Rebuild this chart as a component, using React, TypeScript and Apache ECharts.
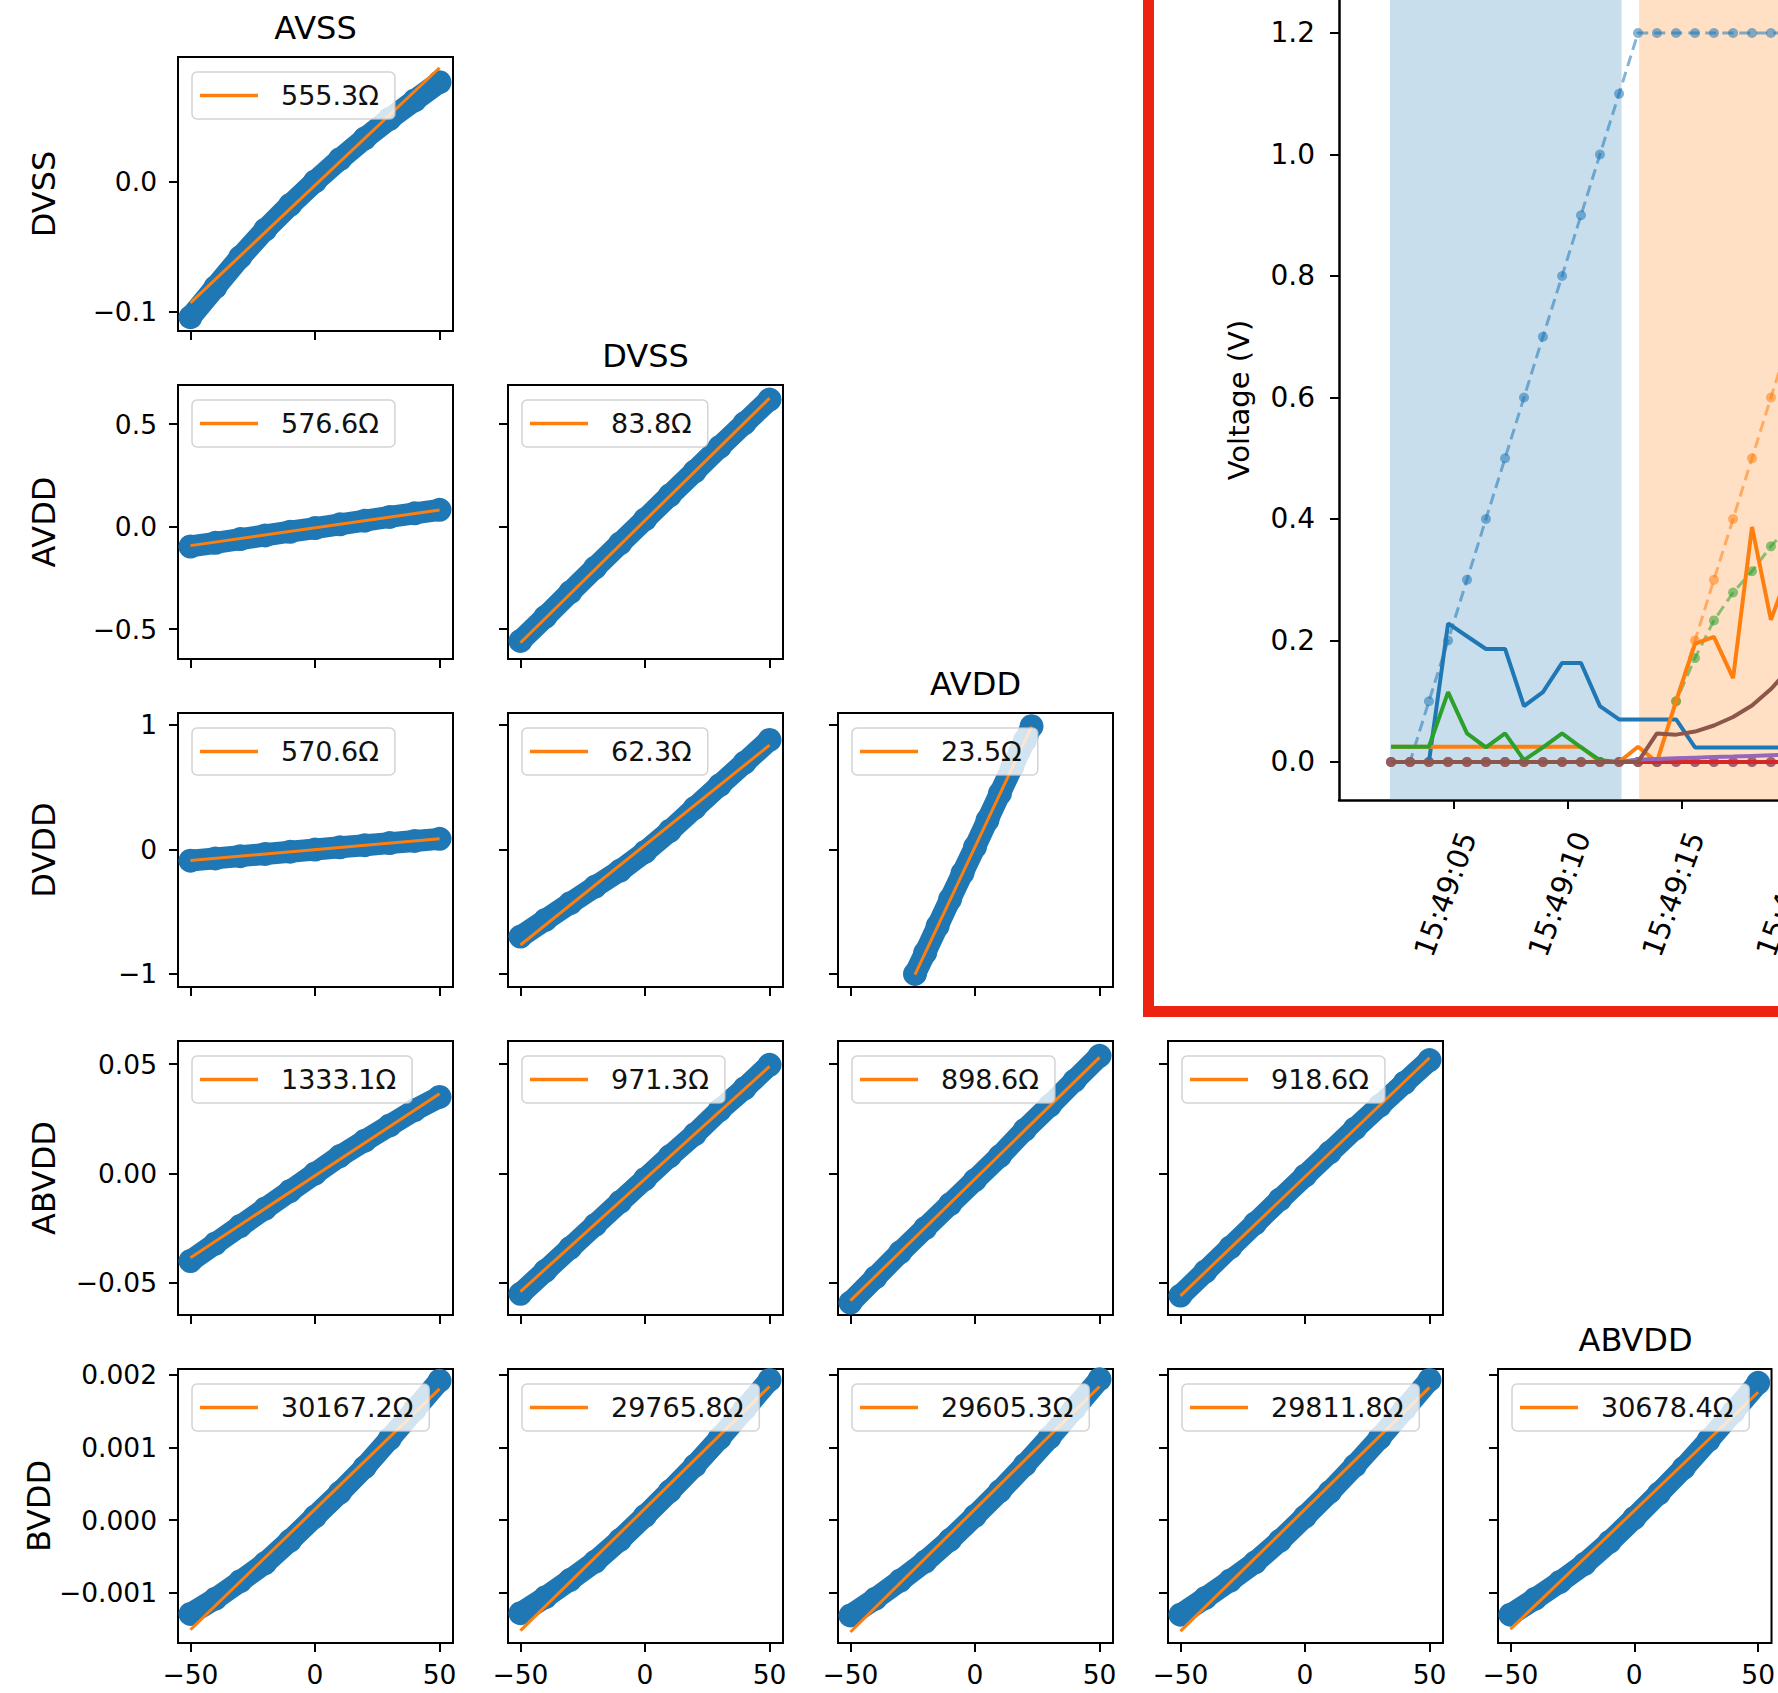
import React, { useEffect, useRef } from "react";
import * as echarts from "echarts";

const FONT = "DejaVu Sans";
const COLORS = {
  blue: "#1f77b4",
  orange: "#ff7f0e",
  green: "#2ca02c",
  red: "#d62728",
  purple: "#9467bd",
  brown: "#8c564b",
};

// ---------- sweep matrix ----------
const ROW_NAMES = ["DVSS", "AVDD", "DVDD", "ABVDD", "BVDD"];
const DIAG_TITLES: (string | null)[] = ["AVSS", "DVSS", "AVDD", null, "ABVDD"];

const SWEEP_X = [-50, -40, -30, -20, -10, 0, 10, 20, 30, 40, 50];
const SWEEP_X_NARROW = [-24.1, -20, -15, -10, -5, 0, 5, 10, 15, 20, 22.7];

const Y_DVSS_AVSS = [-0.104, -0.081, -0.058, -0.037, -0.018, 0.0, 0.017, 0.033, 0.048, 0.062, 0.076];
const Y_AVDD_AVSS = [-0.097, -0.079, -0.061, -0.043, -0.025, -0.007, 0.011, 0.029, 0.047, 0.065, 0.082];
const Y_AVDD_DVSS = [-0.558, -0.44, -0.32, -0.2, -0.082, 0.035, 0.153, 0.27, 0.389, 0.505, 0.62];
const Y_DVDD_AVSS = [-0.09, -0.072, -0.054, -0.036, -0.018, -0.001, 0.017, 0.034, 0.051, 0.068, 0.085];
const Y_DVDD_DVSS = [-0.7, -0.566, -0.432, -0.298, -0.17, -0.02, 0.15, 0.334, 0.516, 0.698, 0.88];
const Y_DVDD_AVDD = [-1.0, -0.83, -0.615, -0.4, -0.19, 0.02, 0.235, 0.45, 0.665, 0.875, 0.99];
const Y_ABVDD_AVSS = [-0.04, -0.032, -0.024, -0.016, -0.008, 0.0, 0.008, 0.015, 0.022, 0.029, 0.035];
const Y_ABVDD_DVSS = [-0.055, -0.0445, -0.034, -0.0235, -0.013, -0.0025, 0.008, 0.018, 0.029, 0.039, 0.0497];
const Y_ABVDD_AVDD = [-0.059, -0.0475, -0.036, -0.025, -0.014, -0.003, 0.008, 0.02, 0.031, 0.0425, 0.0538];
const Y_ABVDD_DVDD = [-0.0558, -0.0448, -0.0338, -0.0228, -0.0118, -0.001, 0.0097, 0.0205, 0.031, 0.0415, 0.0519];
const Y_BVDD_AVSS = [-0.00129, -0.00108, -0.00084, -0.00059, -0.00028, 0.00005, 0.00038, 0.00073, 0.00112, 0.00152, 0.00192];
const Y_BVDD_DVSS = [-0.00128, -0.00106, -0.00082, -0.00057, -0.00027, 0.00006, 0.0004, 0.00075, 0.00113, 0.00153, 0.00193];
const Y_BVDD_AVDD = [-0.00131, -0.00108, -0.00083, -0.00057, -0.00027, 0.00006, 0.0004, 0.00076, 0.00114, 0.00154, 0.00194];
const Y_BVDD_DVDD = [-0.0013, -0.00107, -0.00083, -0.00058, -0.00028, 0.00005, 0.00039, 0.00075, 0.00113, 0.00153, 0.00193];
const Y_BVDD_ABVDD = [-0.0013, -0.00108, -0.00085, -0.0006, -0.0003, 0.00003, 0.00037, 0.00072, 0.0011, 0.00149, 0.00189];

// fitted resistance (ohms) and offset of each linear fit
const FIT_OHMS = [
  [555.3],
  [576.6, 83.8],
  [570.6, 62.3, 23.5],
  [1333.1, 971.3, 898.6, 918.6],
  [30167.2, 29765.8, 29605.3, 29811.8, 30678.4],
];
const FIT_OFFSET = [
  [-0.003],
  [-0.006, 0.03],
  [-0.002, 0.035, 0.02],
  [-0.001, -0.0025, -0.0025, -0.0015],
  [0.00015, 0.00016, 0.00015, 0.00015, 0.00013],
];
const SWEEP_Y = [
  [Y_DVSS_AVSS],
  [Y_AVDD_AVSS, Y_AVDD_DVSS],
  [Y_DVDD_AVSS, Y_DVDD_DVSS, Y_DVDD_AVDD],
  [Y_ABVDD_AVSS, Y_ABVDD_DVSS, Y_ABVDD_AVDD, Y_ABVDD_DVDD],
  [Y_BVDD_AVSS, Y_BVDD_DVSS, Y_BVDD_AVDD, Y_BVDD_DVDD, Y_BVDD_ABVDD],
];

const X_MIN = -55;
const X_MAX = 55.4;
const X_TICKS = [-50, 0, 50];
const ROW_Y_MIN = [-0.1146, -0.646, -1.105, -0.0647, -0.00169];
const ROW_Y_MAX = [0.0953, 0.691, 1.096, 0.0606, 0.00208];
const ROW_TICKS = [
  [-0.1, 0],
  [-0.5, 0, 0.5],
  [-1, 0, 1],
  [-0.05, 0, 0.05],
  [-0.001, 0, 0.001, 0.002],
];
const ROW_DECIMALS = [1, 1, 0, 2, 3];

// ---------- power-up trace ----------
// sample times in seconds after 15:49:00
const SAMPLE_T = [
  2.24, 3.07, 3.9, 4.74, 5.57, 6.4, 7.24, 8.07, 8.9, 9.74, 10.57, 11.4, 12.24, 13.07,
  13.9, 14.74, 15.57, 16.4, 17.24, 18.07, 18.9, 19.74,
];
const SET_AVSS = [0, 0, 0.1, 0.2, 0.3, 0.4, 0.5, 0.6, 0.7, 0.8, 0.9, 1.0, 1.1, 1.2, 1.2, 1.2, 1.2, 1.2, 1.2, 1.2, 1.2, 1.2];
const SET_DVSS = [0, 0, 0, 0, 0, 0, 0, 0, 0, 0, 0, 0, 0, 0, 0, 0.1, 0.2, 0.3, 0.4, 0.5, 0.6, 0.7];
const SET_AVDD = [0, 0, 0, 0, 0, 0, 0, 0, 0, 0, 0, 0, 0, 0, 0, 0.1, 0.171, 0.233, 0.279, 0.314, 0.355, 0.39];
const SET_DVDD = [0, 0, 0, 0, 0, 0, 0, 0, 0, 0, 0, 0, 0, 0, 0, 0, 0, 0, 0, 0, 0, 0];
const SET_ABVDD = [0, 0, 0, 0, 0, 0, 0, 0, 0, 0, 0, 0, 0, 0, 0, 0, 0, 0, 0, 0, 0, 0];
const SET_BVDD = [0, 0, 0, 0, 0, 0, 0, 0, 0, 0, 0, 0, 0, 0, 0, 0, 0, 0, 0, 0, 0, 0];

const MEAS_AVSS = [0, 0, 0, 0.228, 0.207, 0.186, 0.186, 0.092, 0.115, 0.163, 0.163, 0.092, 0.07, 0.07, 0.07, 0.07, 0.024, 0.024, 0.024, 0.024, 0.024, 0.024];
const MEAS_DVSS = [0.025, 0.025, 0.025, 0.025, 0.025, 0.025, 0.025, 0.025, 0.025, 0.025, 0.025, 0, 0, 0.025, 0, 0.1, 0.195, 0.206, 0.138, 0.387, 0.234, 0.32];
const MEAS_AVDD = [0.025, 0.025, 0.025, 0.115, 0.047, 0.024, 0.047, 0.003, 0.024, 0.047, 0.024, 0.003, 0, 0, 0, 0, 0, 0, 0, 0, 0, 0];
const MEAS_DVDD = [0, 0, 0, 0, 0, 0, 0, 0, 0, 0, 0, 0, 0, 0, 0, 0, 0, 0, 0, 0, 0, 0];
const MEAS_ABVDD = [0, 0, 0, 0, 0, 0, 0, 0, 0, 0, 0, 0, 0, 0.004, 0.005, 0.006, 0.007, 0.008, 0.009, 0.01, 0.011, 0.012];
const MEAS_BVDD = [0, 0, 0, 0, 0, 0, 0, 0, 0, 0, 0, 0, 0, 0, 0.047, 0.045, 0.05, 0.06, 0.074, 0.093, 0.12, 0.155];

const TRACE_T_MIN = -0.044;
const TRACE_T_MAX = 19.21;
const PHASE_SPANS = [
  { from: 2.19, to: 12.35, color: "rgba(31,119,180,0.24)" },
  { from: 13.12, to: TRACE_T_MAX, color: "rgba(255,127,14,0.24)" },
];
const TRACE_TICKS = [5, 10, 15];
const CUT_TICK = 20; // tick just past the right edge of the frame
const VOLT_TICKS = [0, 0.2, 0.4, 0.6, 0.8, 1.0, 1.2];
const CLOCK_PREFIX = "15:49:";

const signed = (v: number, d: number) =>
  (v < -1e-12 ? "\u2212" : "") + Math.abs(v).toFixed(d);
const clock = (v: number) => CLOCK_PREFIX + String(Math.round(v)).padStart(2, "0");

// trace panel geometry
const TRACE_LEFT = 1339;
const TRACE_WIDTH = 1778 - TRACE_LEFT;
const TRACE_HEIGHT = 800;
const TIME_LABEL_SIZE = 29;
const TIME_LABEL_MARGIN = 28;

function buildOption() {
  const grids: any[] = [];
  const xAxes: any[] = [];
  const yAxes: any[] = [];
  const series: any[] = [];
  const legends: any[] = [];
  const graphics: any[] = [];

  let idx = 0;
  for (let r = 0; r < 5; r++) {
    for (let c = 0; c <= r; c++) {
      const left = 178 + 330 * c;
      const top = 57 + 328 * r;
      const w = 275;
      const h = 274;
      grids.push({ left, top, width: w, height: h, show: true, borderColor: "#000", borderWidth: 2, backgroundColor: "transparent" });
      xAxes.push({
        gridIndex: idx,
        type: "value",
        min: X_MIN,
        max: X_MAX,
        axisLine: { show: false, onZero: false },
        splitLine: { show: false },
        axisTick: { show: true, length: 9, customValues: X_TICKS, lineStyle: { color: "#000", width: 2 } },
        axisLabel: {
          show: r === 4,
          customValues: X_TICKS,
          formatter: (v: number) => signed(v, 0),
          fontFamily: FONT,
          fontSize: 26.5,
          color: "#000",
          margin: 18,
        },
      });
      yAxes.push({
        gridIndex: idx,
        type: "value",
        min: ROW_Y_MIN[r],
        max: ROW_Y_MAX[r],
        axisLine: { show: false, onZero: false },
        splitLine: { show: false },
        axisTick: { show: true, length: 9, customValues: ROW_TICKS[r], lineStyle: { color: "#000", width: 2 } },
        axisLabel: {
          show: c === 0,
          customValues: ROW_TICKS[r],
          formatter: (v: number) => signed(v, ROW_DECIMALS[r]),
          fontFamily: FONT,
          fontSize: 26.5,
          color: "#000",
          margin: 21,
        },
        name: c === 0 ? ROW_NAMES[r] : "",
        nameLocation: "middle",
        nameGap: 118,
        nameRotate: 90,
        nameTextStyle: { fontFamily: FONT, fontSize: 32, color: "#000" },
      });

      const xs = r === 2 && c === 2 ? SWEEP_X_NARROW : SWEEP_X;
      const ys = SWEEP_Y[r][c];
      series.push({
        type: "line",
        name: `sweep ${ROW_NAMES[r]}-${c}`,
        xAxisIndex: idx,
        yAxisIndex: idx,
        data: xs.map((x, j) => [x, ys[j]]),
        symbol: "circle",
        symbolSize: 24,
        showAllSymbol: true,
        itemStyle: { color: COLORS.blue },
        lineStyle: { color: COLORS.blue, width: 22, cap: "round", join: "round" },
        silent: true,
        z: 2,
      });
      const ohms = FIT_OHMS[r][c];
      const b = FIT_OFFSET[r][c];
      const label = `${ohms.toFixed(1)}\u03a9`;
      const x0 = xs[0];
      const x1 = xs[xs.length - 1];
      series.push({
        type: "line",
        name: label,
        xAxisIndex: idx,
        yAxisIndex: idx,
        data: [
          [x0, x0 / ohms + b],
          [x1, x1 / ohms + b],
        ],
        symbol: "none",
        lineStyle: { color: COLORS.orange, width: 3 },
        itemStyle: { color: COLORS.orange },
        silent: true,
        z: 3,
      });
      legends.push({
        data: [label],
        left: left + 14,
        top: top + 15,
        orient: "horizontal",
        icon: "rect",
        itemWidth: 58,
        itemHeight: 3.5,
        itemStyle: { color: COLORS.orange },
        padding: [10, 16, 10, 8],
        backgroundColor: "rgba(255,255,255,0.8)",
        borderColor: "rgba(200,200,200,0.8)",
        borderWidth: 1.5,
        borderRadius: 5,
        selectedMode: false,
        textStyle: { fontFamily: FONT, fontSize: 27, color: "#111", padding: [0, 0, 0, 18] },
        z: 5,
      });
      if (r === c && DIAG_TITLES[c]) {
        graphics.push({
          type: "text",
          x: left + w / 2,
          y: top - 29,
          style: { text: DIAG_TITLES[c], fontFamily: FONT, fontSize: 32, fill: "#000", align: "center", verticalAlign: "middle" },
        });
      }
      idx++;
    }
  }

  // power-up trace panel
  const gi = idx;
  grids.push({ left: TRACE_LEFT, top: 0, width: TRACE_WIDTH, height: TRACE_HEIGHT, show: false });
  xAxes.push({
    gridIndex: gi,
    type: "value",
    min: TRACE_T_MIN,
    max: TRACE_T_MAX,
    axisLine: { show: true, onZero: false, lineStyle: { color: "#000", width: 2.5 } },
    splitLine: { show: false },
    axisTick: { show: true, length: 9, customValues: TRACE_TICKS, lineStyle: { color: "#000", width: 2 } },
    axisLabel: {
      customValues: TRACE_TICKS,
      rotate: 70,
      margin: TIME_LABEL_MARGIN,
      align: "right",
      verticalAlign: "top",
      formatter: clock,
      fontFamily: FONT,
      fontSize: TIME_LABEL_SIZE,
      color: "#000",
    },
  });
  yAxes.push({
    gridIndex: gi,
    type: "value",
    min: -0.0626,
    max: 1.2543,
    axisLine: { show: true, onZero: false, lineStyle: { color: "#000", width: 2.5 } },
    splitLine: { show: false },
    axisTick: { show: true, length: 9, customValues: VOLT_TICKS, lineStyle: { color: "#000", width: 2 } },
    axisLabel: {
      customValues: VOLT_TICKS,
      formatter: (v: number) => v.toFixed(1),
      fontFamily: FONT,
      fontSize: 28,
      color: "#000",
      margin: 24,
    },
    name: "Voltage (V)",
    nameLocation: "middle",
    nameGap: 86,
    nameTextStyle: { fontFamily: FONT, fontSize: 29, color: "#000" },
  });

  series.push({
    type: "line",
    name: "phases",
    xAxisIndex: gi,
    yAxisIndex: gi,
    data: [],
    silent: true,
    z: 1,
    markArea: {
      silent: true,
      data: PHASE_SPANS.map((s) => [
        { xAxis: s.from, itemStyle: { color: s.color } },
        { xAxis: s.to },
      ]),
    },
  });

  const setpoints: [number[], string][] = [
    [SET_AVSS, COLORS.blue],
    [SET_DVSS, COLORS.orange],
    [SET_AVDD, COLORS.green],
    [SET_DVDD, COLORS.red],
    [SET_ABVDD, COLORS.purple],
    [SET_BVDD, COLORS.brown],
  ];
  setpoints.forEach(([vals, color], i) => {
    series.push({
      type: "line",
      name: `setpoint ${i}`,
      xAxisIndex: gi,
      yAxisIndex: gi,
      data: SAMPLE_T.map((t, k) => [t, vals[k]]),
      symbol: "circle",
      symbolSize: 10,
      showAllSymbol: true,
      itemStyle: { color, opacity: 0.55 },
      lineStyle: { color, width: 3, type: [11, 6], opacity: 0.55 },
      silent: true,
      z: 3,
    });
  });
  const measured: [number[], string][] = [
    [MEAS_AVSS, COLORS.blue],
    [MEAS_DVSS, COLORS.orange],
    [MEAS_AVDD, COLORS.green],
    [MEAS_DVDD, COLORS.red],
    [MEAS_ABVDD, COLORS.purple],
    [MEAS_BVDD, COLORS.brown],
  ];
  measured.forEach(([vals, color], i) => {
    series.push({
      type: "line",
      name: `measured ${i}`,
      xAxisIndex: gi,
      yAxisIndex: gi,
      data: SAMPLE_T.map((t, k) => [t, vals[k]]),
      symbol: "none",
      lineStyle: { color, width: 4 },
      itemStyle: { color },
      silent: true,
      z: 4,
    });
  });

  // label of the tick that lies just past the frame edge
  const pxPerSec = TRACE_WIDTH / (TRACE_T_MAX - TRACE_T_MIN);
  graphics.push({
    type: "text",
    x: TRACE_LEFT + (CUT_TICK - TRACE_T_MIN) * pxPerSec,
    y: TRACE_HEIGHT + TIME_LABEL_MARGIN,
    rotation: (70 * Math.PI) / 180,
    style: { text: clock(CUT_TICK), fontFamily: FONT, fontSize: TIME_LABEL_SIZE, fill: "#000", align: "right", verticalAlign: "top" },
  });

  // red frame around the trace panel
  graphics.push({
    type: "rect",
    shape: { x: 1148.5, y: -30, width: 700, height: 1041.5 },
    style: { fill: "none", stroke: "#ee2211", lineWidth: 11 },
    z: 20,
  });

  return {
    animation: false,
    backgroundColor: "#fff",
    grid: grids,
    xAxis: xAxes,
    yAxis: yAxes,
    legend: legends,
    series,
    graphic: graphics,
  };
}

export default function App() {
  const ref = useRef<HTMLDivElement>(null);
  useEffect(() => {
    if (!ref.current) return;
    const chart = echarts.init(ref.current, undefined, { renderer: "svg" });
    chart.setOption(buildOption() as any);
    return () => chart.dispose();
  }, []);
  return (
    <div
      ref={ref}
      style={{ position: "absolute", left: 0, top: 0, width: 1778, height: 1693, overflow: "hidden" }}
    />
  );
}
